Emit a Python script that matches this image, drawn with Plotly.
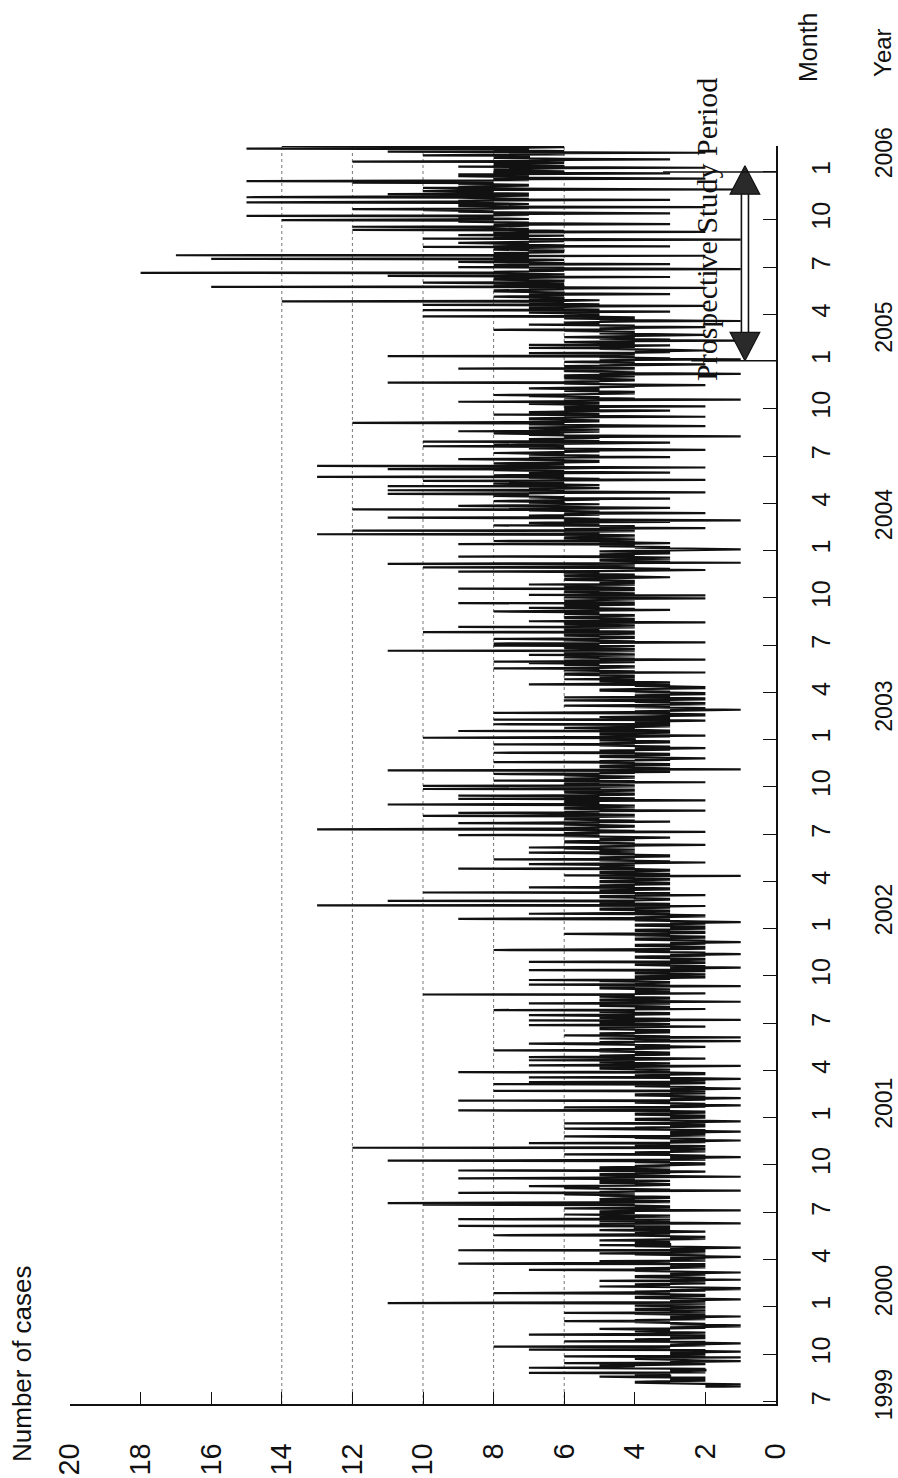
import pandas as pd
import plotly.graph_objects as go

# Daily number of cases, one list per calendar year (1999 starts on 30 Jul).
# Each row is one month.
cases_1999 = [
    2, 1,
    2, 1, 2, 1, 2, 3, 4, 3, 4, 3, 2, 3, 2, 3, 2, 3, 2, 4, 5, 3, 3, 4, 3, 4, 3, 7, 2, 3, 2, 3, 2,
    2, 3, 2, 4, 7, 4, 5, 4, 5, 4, 3, 2, 3, 6, 2, 3, 2, 1, 2, 3, 3, 4, 3, 4, 1, 4, 6, 3, 2, 3,
    2, 3, 2, 3, 2, 1, 2, 3, 2, 7, 3, 4, 3, 4, 3, 8, 3, 2, 3, 2, 2, 1, 2, 3, 2, 6, 3, 4, 3, 4, 3,
    2, 3, 2, 3, 2, 3, 2, 7, 3, 2, 3, 2, 3, 4, 3, 4, 3, 4, 5, 3, 2, 3, 2, 1, 2, 1, 2, 3, 2, 3,
    3, 4, 3, 6, 3, 4, 3, 2, 3, 2, 3, 2, 1, 2, 3, 2, 3, 4, 3, 6, 2, 3, 2, 3, 2, 4, 3, 4, 3, 2, 3,
]
cases_2000 = [
    2, 3, 4, 3, 4, 3, 2, 11, 3, 2, 3, 2, 3, 2, 1, 2, 3, 4, 3, 4, 3, 2, 3, 2, 3, 4, 8, 4, 3, 4, 3,
    2, 3, 2, 1, 2, 1, 2, 3, 5, 3, 4, 3, 4, 3, 2, 3, 2, 3, 2, 5, 2, 1, 2, 3, 2, 3, 4, 3, 4,
    3, 2, 3, 2, 3, 2, 1, 2, 3, 4, 3, 7, 4, 3, 4, 3, 2, 3, 2, 3, 2, 3, 2, 9, 4, 3, 4, 3, 5, 2, 3,
    2, 3, 2, 3, 2, 1, 2, 3, 2, 3, 4, 3, 5, 3, 2, 3, 2, 3, 9, 3, 2, 3, 2, 1, 2, 3, 4, 3, 5, 3,
    3, 4, 3, 4, 3, 4, 3, 5, 4, 3, 2, 3, 2, 3, 2, 3, 4, 8, 4, 3, 4, 3, 4, 3, 2, 3, 4, 5, 4, 3, 4,
    4, 3, 4, 3, 9, 4, 5, 4, 5, 1, 3, 4, 3, 5, 3, 4, 3, 9, 4, 5, 4, 5, 3, 4, 3, 4, 6, 4, 5, 4,
    5, 4, 5, 4, 1, 4, 3, 4, 6, 4, 3, 4, 3, 4, 5, 10, 5, 4, 11, 4, 3, 4, 3, 4, 5, 4, 5, 4, 3, 4, 3,
    4, 5, 4, 5, 6, 5, 4, 9, 4, 5, 4, 1, 4, 3, 4, 5, 6, 5, 6, 5, 7, 4, 3, 4, 3, 4, 5, 4, 5, 4, 3,
    4, 5, 4, 5, 9, 4, 3, 1, 3, 4, 5, 4, 5, 4, 3, 4, 3, 2, 3, 9, 4, 3, 4, 5, 4, 5, 4, 3, 4, 3,
    3, 2, 3, 2, 3, 4, 3, 4, 11, 3, 2, 3, 2, 3, 2, 1, 2, 3, 2, 3, 6, 3, 4, 3, 4, 3, 2, 3, 2, 3, 2,
    3, 2, 12, 2, 3, 2, 3, 4, 3, 4, 3, 7, 3, 2, 3, 2, 1, 2, 3, 2, 3, 4, 3, 4, 6, 3, 2, 3, 2, 3,
    2, 3, 2, 1, 2, 3, 2, 3, 4, 6, 3, 4, 3, 2, 3, 2, 3, 2, 3, 6, 2, 3, 2, 1, 2, 3, 4, 3, 4, 3, 2,
]
cases_2001 = [
    3, 2, 3, 2, 3, 4, 3, 4, 3, 2, 3, 2, 3, 9, 3, 4, 3, 4, 3, 6, 2, 3, 2, 1, 2, 3, 2, 3, 4, 3, 4,
    3, 9, 3, 2, 3, 2, 1, 2, 3, 2, 3, 4, 3, 4, 3, 2, 3, 2, 3, 2, 8, 2, 3, 2, 1, 2, 3, 2,
    3, 4, 3, 4, 3, 8, 3, 2, 3, 7, 2, 3, 2, 3, 2, 1, 2, 3, 7, 3, 4, 3, 4, 3, 2, 3, 2, 3, 9, 3, 4,
    3, 4, 3, 4, 5, 4, 5, 4, 3, 1, 7, 4, 3, 4, 3, 4, 5, 4, 5, 4, 7, 3, 4, 2, 4, 5, 7, 5, 4, 5,
    4, 3, 4, 3, 4, 3, 4, 5, 4, 8, 4, 5, 4, 3, 4, 3, 2, 3, 4, 3, 4, 5, 7, 5, 4, 5, 4, 1, 4, 3, 4,
    4, 5, 4, 1, 4, 3, 4, 6, 4, 5, 4, 5, 4, 3, 4, 3, 4, 3, 4, 5, 4, 5, 4, 5, 2, 4, 3, 7, 4, 3,
    4, 5, 4, 5, 4, 3, 7, 1, 4, 3, 4, 5, 4, 5, 4, 5, 7, 4, 3, 4, 3, 4, 5, 4, 5, 4, 8, 4, 2, 4, 3,
    4, 3, 4, 5, 4, 5, 4, 3, 7, 3, 4, 1, 4, 5, 4, 5, 4, 3, 4, 3, 4, 5, 4, 5, 4, 10, 4, 2, 4, 3, 4,
    3, 4, 3, 4, 3, 4, 5, 4, 5, 4, 1, 4, 3, 7, 3, 4, 3, 4, 3, 4, 5, 4, 7, 4, 3, 4, 3, 2, 3, 4,
    3, 2, 3, 2, 3, 4, 3, 4, 3, 2, 3, 7, 3, 2, 3, 2, 1, 2, 3, 2, 3, 4, 3, 4, 3, 2, 3, 7, 3, 2, 3,
    2, 3, 2, 3, 4, 3, 4, 3, 2, 3, 2, 1, 2, 3, 2, 3, 4, 3, 4, 8, 3, 2, 3, 2, 3, 2, 3, 4, 3, 4,
    3, 2, 3, 2, 1, 2, 3, 2, 3, 4, 3, 4, 3, 2, 3, 2, 3, 4, 3, 4, 6, 3, 2, 3, 2, 3, 4, 3, 4, 3, 2,
]
cases_2002 = [
    3, 2, 3, 2, 3, 4, 3, 4, 3, 2, 3, 2, 1, 2, 3, 4, 3, 4, 9, 4, 3, 4, 3, 2, 3, 2, 3, 4, 7, 4, 3,
    4, 3, 4, 3, 4, 5, 4, 5, 4, 3, 4, 3, 2, 13, 3, 4, 3, 4, 5, 4, 5, 4, 11, 4, 3, 4, 3, 4,
    4, 5, 4, 5, 4, 2, 4, 3, 4, 3, 10, 4, 5, 4, 5, 4, 3, 4, 3, 4, 7, 4, 5, 4, 5, 4, 3, 4, 3, 4, 5,
    4, 5, 4, 3, 4, 3, 4, 5, 4, 5, 4, 1, 6, 3, 4, 3, 4, 5, 4, 5, 4, 3, 4, 3, 4, 9, 4, 5, 4, 5,
    4, 5, 4, 5, 7, 5, 4, 2, 4, 3, 4, 5, 4, 8, 4, 5, 4, 5, 4, 3, 4, 3, 4, 5, 4, 5, 7, 5, 4, 5, 4,
    5, 4, 5, 6, 5, 7, 5, 4, 5, 4, 2, 4, 5, 4, 5, 6, 5, 6, 5, 4, 5, 4, 5, 4, 3, 4, 5, 6, 5, 9,
    5, 6, 5, 6, 5, 2, 5, 4, 5, 6, 13, 6, 5, 6, 5, 4, 5, 4, 5, 6, 5, 6, 9, 6, 5, 3, 5, 4, 5, 6, 5,
    6, 5, 6, 5, 4, 10, 5, 4, 5, 6, 5, 9, 5, 6, 5, 2, 5, 4, 5, 6, 5, 6, 5, 4, 5, 4, 5, 11, 5, 6, 5,
    6, 5, 6, 5, 2, 5, 4, 9, 4, 5, 6, 5, 6, 9, 5, 4, 5, 4, 5, 6, 5, 6, 5, 4, 5, 4, 10, 5, 6, 5,
    5, 4, 10, 4, 5, 6, 5, 6, 5, 2, 5, 4, 8, 5, 6, 5, 6, 5, 4, 5, 4, 5, 6, 5, 6, 8, 5, 4, 5, 3, 5,
    4, 11, 4, 1, 4, 3, 4, 5, 4, 5, 4, 3, 4, 3, 4, 5, 4, 8, 4, 5, 4, 3, 4, 3, 2, 3, 4, 5, 4, 5,
    4, 3, 4, 3, 4, 8, 4, 5, 4, 5, 4, 3, 4, 3, 2, 3, 4, 3, 4, 5, 4, 8, 4, 5, 4, 3, 4, 3, 4, 5, 4,
]
cases_2003 = [
    4, 5, 4, 10, 4, 3, 4, 2, 4, 5, 4, 5, 4, 3, 4, 3, 9, 3, 4, 5, 4, 5, 6, 5, 4, 3, 4, 3, 4, 8, 4,
    3, 4, 3, 4, 3, 2, 3, 8, 3, 4, 3, 4, 5, 4, 3, 2, 3, 2, 3, 4, 8, 4, 3, 4, 3, 2, 1, 2,
    3, 2, 3, 4, 3, 4, 6, 4, 3, 2, 3, 2, 3, 4, 3, 4, 6, 3, 2, 3, 2, 3, 6, 3, 4, 3, 4, 3, 2, 3, 2,
    3, 4, 3, 4, 5, 4, 5, 4, 3, 2, 3, 2, 3, 4, 3, 4, 7, 4, 3, 4, 3, 4, 5, 4, 5, 4, 6, 4, 5, 4,
    5, 4, 5, 4, 5, 6, 5, 6, 5, 2, 5, 4, 5, 6, 5, 6, 5, 8, 5, 4, 5, 4, 5, 6, 5, 6, 5, 7, 5, 4, 8,
    5, 6, 5, 2, 5, 4, 5, 6, 5, 6, 5, 4, 7, 4, 5, 6, 5, 6, 5, 4, 11, 4, 5, 4, 5, 6, 5, 6, 5, 4,
    8, 5, 6, 5, 8, 5, 2, 5, 4, 5, 6, 5, 6, 8, 5, 4, 5, 4, 5, 6, 5, 6, 5, 4, 5, 4, 10, 4, 5, 6, 5,
    6, 5, 6, 5, 4, 9, 4, 5, 4, 5, 6, 5, 6, 5, 2, 5, 7, 5, 4, 5, 4, 5, 6, 5, 6, 5, 4, 5, 4, 5, 6,
    5, 6, 5, 6, 8, 6, 5, 3, 5, 4, 5, 7, 5, 6, 5, 6, 5, 4, 5, 4, 9, 4, 5, 6, 5, 6, 5, 4, 5, 2,
    5, 6, 5, 6, 5, 2, 7, 4, 5, 4, 5, 6, 5, 6, 5, 4, 5, 4, 9, 4, 5, 6, 5, 6, 5, 4, 7, 4, 5, 4, 5,
    4, 5, 4, 5, 6, 5, 6, 5, 4, 3, 4, 6, 4, 5, 4, 5, 6, 5, 6, 5, 9, 5, 4, 2, 4, 3, 4, 5, 10, 5,
    4, 5, 4, 5, 4, 11, 4, 1, 4, 3, 4, 5, 4, 5, 4, 3, 4, 3, 4, 9, 4, 5, 4, 5, 4, 3, 4, 3, 4, 5, 4,
]
cases_2004 = [
    3, 2, 1, 2, 3, 4, 3, 4, 5, 4, 5, 4, 9, 4, 3, 4, 5, 4, 8, 4, 5, 4, 5, 6, 5, 6, 5, 4, 5, 4, 5,
    13, 5, 6, 5, 6, 5, 4, 12, 4, 5, 6, 5, 2, 5, 4, 5, 4, 8, 5, 6, 5, 6, 7, 6, 3, 6, 5, 1, 5,
    6, 5, 6, 11, 6, 7, 6, 7, 6, 5, 6, 5, 2, 5, 6, 5, 6, 7, 6, 12, 6, 5, 3, 5, 6, 7, 9, 7, 6, 5, 6,
    6, 7, 6, 7, 8, 7, 6, 5, 6, 3, 6, 7, 6, 7, 8, 7, 8, 7, 11, 7, 6, 2, 6, 7, 6, 11, 6, 7, 6, 5,
    6, 7, 6, 11, 6, 5, 6, 7, 8, 7, 6, 7, 6, 10, 6, 2, 6, 5, 6, 7, 6, 13, 6, 7, 8, 7, 6, 7, 6, 3, 6,
    7, 6, 7, 8, 7, 11, 6, 5, 2, 5, 6, 13, 6, 7, 6, 7, 8, 7, 6, 5, 6, 5, 6, 7, 9, 7, 6, 7, 3, 5,
    6, 5, 6, 7, 6, 7, 8, 7, 6, 5, 6, 5, 2, 5, 6, 7, 6, 7, 6, 10, 6, 7, 8, 7, 6, 5, 3, 5, 10, 5, 6,
    7, 6, 7, 6, 5, 6, 5, 1, 5, 6, 7, 6, 7, 8, 7, 6, 5, 9, 5, 6, 5, 6, 7, 6, 7, 6, 5, 2, 5, 6, 7,
    6, 7, 12, 7, 6, 5, 6, 5, 6, 7, 6, 7, 6, 5, 2, 5, 6, 5, 8, 5, 6, 7, 6, 7, 6, 5, 3, 5, 6, 5,
    6, 5, 6, 5, 2, 5, 6, 5, 6, 7, 6, 5, 6, 9, 5, 6, 5, 1, 5, 4, 5, 6, 5, 6, 7, 6, 8, 6, 5, 4, 5,
    5, 4, 5, 6, 5, 6, 5, 6, 7, 6, 5, 4, 5, 4, 2, 4, 5, 6, 5, 11, 5, 6, 5, 4, 5, 4, 5, 6, 5, 6,
    5, 4, 5, 6, 5, 4, 1, 4, 5, 4, 5, 6, 5, 6, 5, 4, 9, 4, 5, 6, 5, 6, 5, 4, 2, 4, 5, 4, 5, 6, 5,
]
cases_2005 = [
    4, 5, 4, 1, 4, 3, 4, 5, 4, 11, 4, 5, 4, 5, 4, 7, 4, 3, 4, 3, 2, 3, 4, 5, 4, 7, 5, 4, 5, 4, 3,
    7, 4, 5, 4, 5, 6, 5, 4, 1, 4, 3, 4, 5, 4, 5, 6, 5, 4, 3, 2, 3, 4, 5, 4, 5, 4, 5, 6,
    5, 8, 5, 4, 5, 4, 2, 4, 5, 4, 5, 7, 5, 6, 5, 6, 5, 4, 1, 4, 5, 4, 5, 6, 5, 4, 5, 10, 5, 6, 5,
    6, 5, 6, 7, 6, 3, 6, 5, 10, 5, 6, 7, 6, 7, 6, 5, 2, 5, 10, 5, 6, 7, 6, 7, 6, 14, 6, 5, 6, 7,
    6, 7, 6, 7, 8, 7, 6, 7, 6, 3, 6, 7, 6, 7, 8, 7, 8, 7, 6, 7, 6, 2, 6, 16, 6, 7, 8, 7, 6, 7, 9,
    10, 7, 6, 7, 6, 7, 8, 7, 8, 7, 6, 3, 6, 11, 6, 7, 6, 7, 8, 18, 7, 8, 7, 6, 7, 6, 1, 6, 7, 6,
    9, 7, 8, 7, 8, 7, 3, 7, 6, 7, 9, 7, 8, 7, 6, 7, 16, 7, 8, 7, 8, 7, 2, 17, 7, 8, 7, 8, 7, 6, 7,
    7, 6, 7, 8, 7, 8, 7, 6, 10, 3, 7, 6, 7, 8, 7, 8, 9, 8, 7, 6, 7, 6, 1, 6, 10, 7, 8, 7, 8, 7, 6,
    9, 7, 8, 7, 8, 7, 2, 7, 6, 7, 12, 8, 7, 8, 9, 8, 12, 8, 7, 8, 7, 3, 7, 8, 7, 8, 9, 8, 9, 14,
    8, 7, 8, 9, 8, 9, 8, 15, 8, 7, 8, 7, 3, 7, 8, 9, 8, 9, 10, 9, 12, 8, 7, 8, 2, 8, 9, 8, 9, 8, 7,
    8, 9, 15, 9, 8, 9, 8, 3, 8, 7, 8, 9, 15, 9, 8, 7, 8, 7, 11, 7, 8, 9, 8, 9, 10, 9, 8, 1, 8, 9,
    10, 8, 9, 8, 7, 8, 7, 8, 9, 8, 12, 8, 9, 15, 8, 7, 8, 7, 2, 7, 8, 7, 8, 9, 8, 7, 9, 7, 3, 7, 8,
]
cases_2006 = [
    7, 6, 7, 8, 7, 8, 7, 6, 2, 6, 9, 6, 7, 8, 7, 8, 7, 6, 7, 6, 12, 6, 7, 6, 3, 6, 7, 8, 7, 8, 7,
    7, 10, 7, 6, 7, 6, 2, 6, 11, 6, 7, 8, 7, 8, 15, 8, 7, 6, 7, 14,
]

year_series = [
    ("1999-07-30", cases_1999),
    ("2000-01-01", cases_2000),
    ("2001-01-01", cases_2001),
    ("2002-01-01", cases_2002),
    ("2003-01-01", cases_2003),
    ("2004-01-01", cases_2004),
    ("2005-01-01", cases_2005),
    ("2006-01-01", cases_2006),
]

# Axis settings
value_ticks = list(range(0, 21, 2))
grid_values = [6, 8, 10, 12, 14]
date_range = ["1999-06-27", "2006-02-20"]
quarter_ticks = pd.date_range("1999-07-01", "2006-01-01", freq="QS")
month_labels = [str(d.month) for d in quarter_ticks]
year_labels = ["1999", "2000", "2001", "2002", "2003", "2004", "2005", "2006"]
year_label_dates = ["1999-07-14", "2000-01-31", "2001-01-27", "2002-02-05",
                    "2003-03-05", "2004-03-09", "2005-03-06", "2006-02-06"]

# Prospective study period
study_start = "2005-01-01"
study_end = "2006-01-01"

dates, values = [], []
for start, vals in year_series:
    dates.extend(pd.date_range(start, periods=len(vals), freq="D"))
    values.extend(vals)

SANS = "Liberation Sans, Arial, sans-serif"
SERIF = "Liberation Serif, Times New Roman, serif"

fig = go.Figure()

# case counts: value on the horizontal axis, time running upward
fig.add_trace(go.Scatter(
    x=values, y=dates, mode="lines",
    line=dict(color="#111111", width=2.2),
    hoverinfo="skip", showlegend=False,
))

# double-headed arrow marking the study period
arrow_x, head_half, shaft_half = 0.88, 0.42, 0.10
head_days = pd.Timedelta(days=55)
top_tip = pd.Timestamp(study_end) + pd.Timedelta(days=12)
bot_tip = pd.Timestamp(study_start)
top_base = top_tip - head_days
bot_base = bot_tip + head_days
for dx in (-shaft_half, shaft_half):
    fig.add_trace(go.Scatter(
        x=[arrow_x + dx, arrow_x + dx], y=[bot_base, top_base], mode="lines",
        line=dict(color="#111111", width=1.6), hoverinfo="skip", showlegend=False,
    ))
for tip, base in ((top_tip, top_base), (bot_tip, bot_base)):
    fig.add_trace(go.Scatter(
        x=[arrow_x, arrow_x + head_half, arrow_x - head_half, arrow_x],
        y=[tip, base, base, tip], mode="lines", fill="toself",
        fillcolor="#2a2a2a", line=dict(color="#111111", width=1.2),
        hoverinfo="skip", showlegend=False,
    ))

shapes = []
for g in grid_values:
    shapes.append(dict(type="line", xref="x", yref="y domain", x0=g, x1=g, y0=0, y1=1,
                       line=dict(color="#777777", width=1, dash="dot"), layer="below"))
for d, x_left in ((study_start, 2.4), (study_end, 3.2)):
    shapes.append(dict(type="line", xref="x", yref="y", x0=x_left, x1=0, y0=d, y1=d,
                       line=dict(color="#111111", width=1.5)))


def label(text, x, y, size, family=SANS, xref="paper", yref="paper"):
    return dict(text=text, xref=xref, yref=yref, x=x, y=y, textangle=-90,
                xanchor="center", yanchor="middle", showarrow=False,
                font=dict(family=family, size=size, color="#111"))


annotations = [
    label("Number of cases", -0.068, 0.0326, 26),
    label("Month", 1.0453, 1.0787, 25),
    label("Year", 1.150, 1.0747, 24),
    label("Prospective Study Period", 1.95, "2005-09-11", 30, family=SERIF, xref="x", yref="y"),
]
for text, d in zip(year_labels, year_label_dates):
    annotations.append(label(text, 1.153, d, 23, yref="y"))

fig.update_layout(
    template="none",
    width=898, height=1478,
    margin=dict(l=70, r=122, t=146, b=74),
    paper_bgcolor="white", plot_bgcolor="white",
    showlegend=False,
    shapes=shapes,
    annotations=annotations,
    xaxis=dict(
        range=[20, 0], tickvals=value_ticks, ticktext=[str(v) for v in value_ticks],
        ticks="inside", ticklen=12, tickwidth=1.2, tickcolor="#111",
        tickangle=-90, tickfont=dict(family=SANS, size=29, color="#111"),
        ticklabelstandoff=26,
        showline=True, linecolor="#111", linewidth=1.5, mirror=False,
        showgrid=False, zeroline=False, automargin=False,
    ),
    yaxis=dict(
        type="date", range=date_range, side="right",
        tickvals=quarter_ticks, ticktext=month_labels,
        ticks="inside", ticklen=13, tickwidth=1.2, tickcolor="#111",
        tickangle=-90, tickfont=dict(family=SANS, size=25, color="#111"),
        ticklabelstandoff=22,
        showline=True, linecolor="#111", linewidth=1.5, mirror=False,
        showgrid=False, zeroline=False, automargin=False,
    ),
)

fig.write_html("out.html")
